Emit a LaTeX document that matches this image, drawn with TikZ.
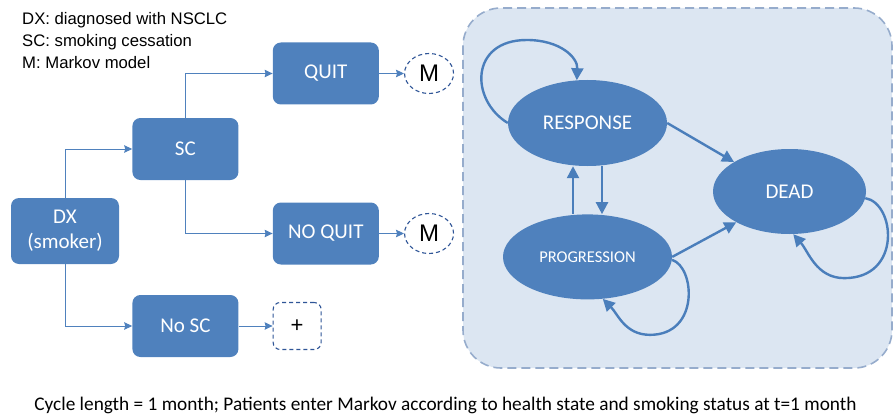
\documentclass[tikz,border=0pt]{standalone}
\usepackage{fontspec}
\setmainfont{Carlito}
\newfontfamily\arialfont{Liberation Sans}
\usetikzlibrary{arrows.meta,shapes.geometric,positioning}
\definecolor{boxblue}{RGB}{79,129,189}
\definecolor{linkblue}{RGB}{79,129,189}
\definecolor{statearrow}{RGB}{74,126,187}
\definecolor{markovfill}{RGB}{220,230,242}
\definecolor{markovedge}{RGB}{150,172,204}
\definecolor{dashblue}{RGB}{47,85,151}

\begin{document}
\begin{tikzpicture}[
    x=1pt,y=-1pt,
    box/.style={rectangle,fill=boxblue,text=white,rounded corners=8pt,minimum width=106pt,minimum height=62pt,inner sep=0pt,align=center,font=\fontsize{21}{25}\selectfont},
    state/.style={ellipse,fill=boxblue,text=white,inner sep=0pt,font=\fontsize{21}{25}\selectfont},
    target/.style={ellipse,draw=dashblue,dash pattern=on 4pt off 3pt,line width=1.1pt,fill=white,minimum width=49pt,minimum height=40pt,inner sep=0pt,font=\arialfont\fontsize{24}{28}\selectfont},
    plusbox/.style={rectangle,draw=dashblue,dash pattern=on 4pt off 3pt,line width=1.1pt,fill=white,rounded corners=7pt,minimum width=48pt,minimum height=47pt,inner sep=0pt,font=\arialfont\fontsize{22}{24}\selectfont},
    markovbox/.style={draw=markovedge,fill=markovfill,line width=1.6pt,dash pattern=on 9pt off 5pt,rounded corners=38pt},
    link/.style={line width=1pt,draw=linkblue,-{Stealth[length=8pt,width=7.5pt,inset=1pt]}},
    trans/.style={line width=2.4pt,draw=statearrow,-{Triangle[length=12pt,width=12pt]}}
]
    \useasboundingbox (0,0) rectangle (893,417);

    \draw[markovbox] (463,8) rectangle (892,368);

    \node[anchor=north west,inner sep=0pt,align=left,font=\arialfont\fontsize{16.7}{22}\selectfont] (key) at (22,12) {DX: diagnosed with NSCLC\\SC: smoking cessation\\M: Markov model};

    \node[box,minimum width=108pt,minimum height=66pt] (dx) at (65,231) {DX\\(smoker)};
    \node[box,right=13pt of dx,yshift=82pt] (sc) {SC};
    \node[box,right=13pt of dx,yshift=-95pt] (nosc) {No SC};
    \node[box,right=34pt of sc,yshift=75.5pt] (quit) {QUIT};
    \node[box,right=34pt of sc,yshift=-84.5pt] (noquit) {NO QUIT};
    \node[target,right=25pt of quit] (mquit) {M};
    \node[target,right=25pt of noquit] (mnoquit) {M};
    \node[plusbox,right=34pt of nosc] (plus) {+};

    \node[state,minimum width=159pt,minimum height=86pt] (response) at (587.5,123) {RESPONSE};
    \node[state,minimum width=169pt,minimum height=85pt,font=\fontsize{16.5}{20}\selectfont,below=48pt of response] (progression) {PROGRESSION};
    \node[state,minimum width=153pt,minimum height=85pt] (dead) at (789.5,191.5) {DEAD};

    \node[font=\fontsize{19.3}{23}\selectfont] (note) at (445.5,405) {Cycle length = 1 month; Patients enter Markov according to health state and smoking status at t=1 month};

    \draw[link] (dx.north) |- (sc.west);
    \draw[link] (dx.south) |- (nosc.west);
    \draw[link] (sc.north) |- (quit.west);
    \draw[link] (sc.south) |- (noquit.west);
    \draw[link] (quit) -- (mquit);
    \draw[link] (noquit) -- (mnoquit);
    \draw[link] (nosc) -- (plus);

    \draw[trans] (response.east) -- (dead.152);
    \draw[trans] (progression.east) -- (dead.210);
    \draw[trans] ([xshift=-14.5pt]progression.north) -- ([xshift=-14.5pt]response.south);
    \draw[trans] ([xshift=14.5pt]response.south) -- ([xshift=14.5pt]progression.north);
    \draw[trans] (response.west) .. controls +(-38,-23) and +(-57,0) .. ++(19,-83) .. controls +(33,0) and +(1,-23) .. (response.104);
    \draw[trans] (progression.-2) .. controls +(23,7) and +(50,0) .. ++(-22,75) .. controls +(-25,0) and +(15,15) .. (progression.-70);
    \draw[trans] (dead.-5) .. controls +(30,5) and +(58,0) .. ++(-21,80) .. controls +(-28,0) and +(15,17) .. (dead.-85);
\end{tikzpicture}
\end{document}
